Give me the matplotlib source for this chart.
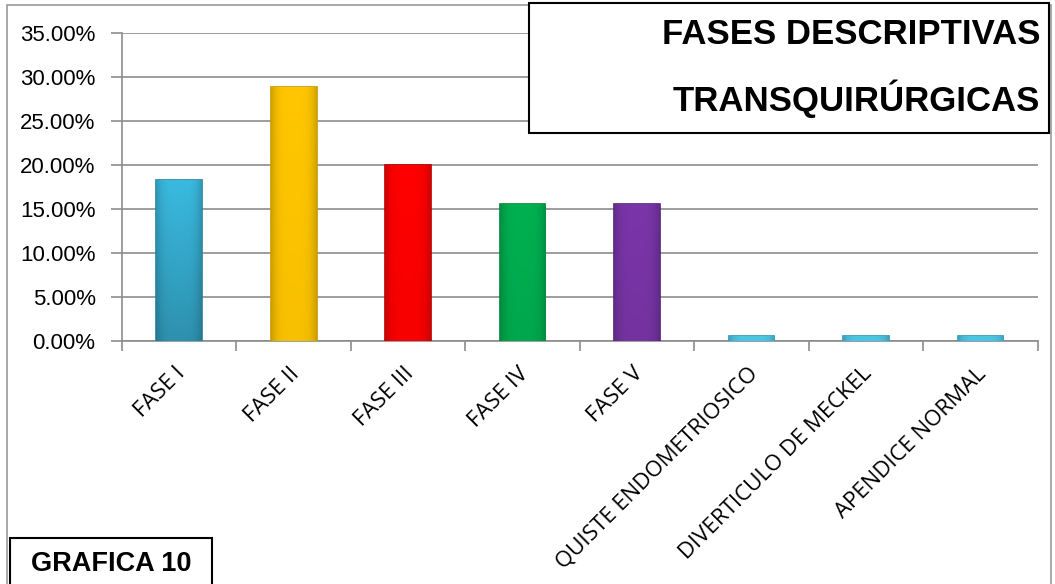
import matplotlib.pyplot as plt
from matplotlib.patches import Rectangle
from matplotlib.ticker import FuncFormatter, FixedLocator
from matplotlib.colors import to_rgb
import numpy as np

# data
categorias = ["FASE I", "FASE II", "FASE III", "FASE IV", "FASE V",
              "QUISTE ENDOMETRIOSICO", "DIVERTICULO DE MECKEL", "APENDICE NORMAL"]
porcentajes = [18.33, 28.89, 20.00, 15.56, 15.56, 0.56, 0.56, 0.56]
colores = ["#3ABAE0", "#FFC600", "#FF0000", "#00B050", "#7A35A8",
           "#4CC6E6", "#4CC6E6", "#4CC6E6"]
bordes = ["#22809C", "#C99700", "#B00000", "#00823A", "#4E1F73",
          "#2A93B5", "#2A93B5", "#2A93B5"]
oscurecer = [0.78, 0.97, 0.97, 0.95, 0.95, 1.0, 1.0, 1.0]  # degradado hacia abajo
y_ticks = [0, 5, 10, 15, 20, 25, 30, 35]

fig = plt.figure(figsize=(10.55, 5.84), dpi=100)
ax = fig.add_axes([0.1156, 0.416, 0.868, 0.5275])

x = np.arange(len(categorias))
barras = ax.bar(x, porcentajes, width=0.4, color=colores, edgecolor=bordes,
                linewidth=1.2, zorder=3)

# sombreado tipo bisel: bordes laterales mas oscuros
u = np.linspace(-1, 1, 60)
v = np.linspace(0, 1, 60)
perfil = 1 - 0.18 * np.abs(u) ** 4
for b, c, k in zip(barras, colores, oscurecer):
    rgb = np.array(to_rgb(c))
    vert = k + (1 - k) * v  # fila 0 = abajo con origin lower
    img = perfil[None, :, None] * vert[:, None, None] * rgb[None, None, :]
    img = np.clip(img, 0, 1)
    x0, y0 = b.get_x(), b.get_y()
    im = ax.imshow(img, extent=[x0, x0 + b.get_width(), y0, y0 + b.get_height()],
                   aspect="auto", zorder=3.5, interpolation="bilinear", origin="lower")
    im.set_clip_path(b)

ax.set_xlim(-0.5, len(categorias) - 0.5)
ax.set_ylim(0, 35)
ax.set_yticks(y_ticks)
ax.yaxis.set_major_formatter(FuncFormatter(lambda v, p: "%.2f%%" % v))
ax.grid(axis="y", color="#8C8C8C", linewidth=1.2, zorder=0)

ax.set_xticks(x - 0.04)
ax.set_xticklabels(categorias, rotation=45, ha="right", rotation_mode="anchor",
                   fontsize=16, family="Open Sans")
ax.xaxis.set_minor_locator(FixedLocator(np.arange(-0.5, len(categorias), 1)))
ax.tick_params(axis="x", which="major", length=0, pad=16)
ax.tick_params(axis="x", which="minor", length=7, color="#8C8C8C", width=1.2)
ax.tick_params(axis="y", length=8, color="#8C8C8C", width=1.2, labelsize=16, pad=11)
for lbl in ax.get_yticklabels():
    lbl.set_family("Liberation Sans")

for s in ["top", "right"]:
    ax.spines[s].set_visible(False)
for s in ["left", "bottom"]:
    ax.spines[s].set_color("#8C8C8C")
    ax.spines[s].set_linewidth(1.2)

# marco del grafico
fig.patches.append(Rectangle((0.0065, -0.01), 0.99, 1.0014, transform=fig.transFigure,
                             fill=False, edgecolor="#9A9A9A", linewidth=1.2))

# cuadro del titulo
fig.patches.append(Rectangle((529 / 1055, 1 - 133 / 584), 520 / 1055, 130 / 584,
                             transform=fig.transFigure, facecolor="white",
                             edgecolor="black", linewidth=1.5, zorder=5))
fig.text(1040 / 1055, 1 - 34 / 584, "FASES DESCRIPTIVAS", ha="right", va="center",
         fontsize=25, fontweight="bold", family="Liberation Sans", zorder=6)
fig.text(1040 / 1055, 1 - 99 / 584, "TRANSQUIRÚRGICAS", ha="right", va="center",
         fontsize=25, fontweight="bold", family="Liberation Sans", zorder=6)

# cuadro GRAFICA 10
fig.patches.append(Rectangle((10 / 1055, -0.01), 202 / 1055, 52 / 584,
                             transform=fig.transFigure, facecolor="white",
                             edgecolor="black", linewidth=1.5, zorder=5))
fig.text(111 / 1055, 1 - 564 / 584, "GRAFICA 10", ha="center", va="center",
         fontsize=19.5, fontweight="bold", family="Liberation Sans", zorder=6)

fig.savefig("out.png", dpi=100)
